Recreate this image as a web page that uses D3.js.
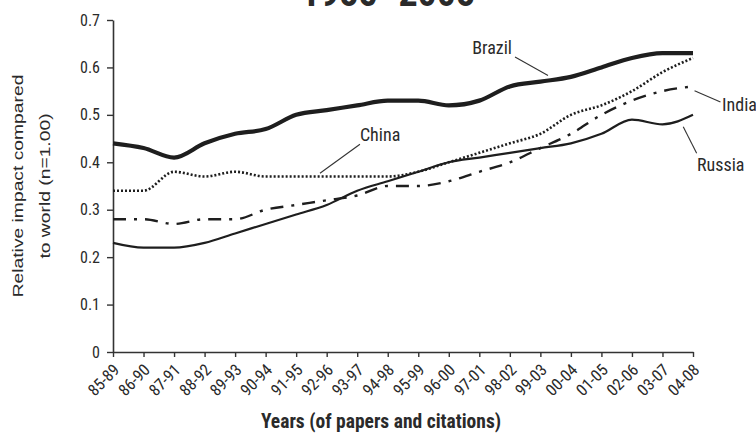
<!DOCTYPE html>
<html>
<head>
<meta charset="utf-8">
<script src="https://cdn.jsdelivr.net/npm/d3@7"></script>
<style>
  html, body { margin: 0; padding: 0; background: #fff; }
  svg { display: block; }
  .narrow { font-family: "Liberation Sans Narrow", "Roboto Condensed", "DejaVu Sans Condensed", "Liberation Sans", sans-serif; }
</style>
</head>
<body>
<svg id="chart" width="756" height="434"></svg>
<script>
// ---- data ----
const titleText = "1985–2008";
const categories = ["85-89","86-90","87-91","88-92","89-93","90-94","91-95","92-96","93-97","94-98",
                    "95-99","96-00","97-01","98-02","99-03","00-04","01-05","02-06","03-07","04-08"];
const brazil = [0.44,0.43,0.41,0.44,0.46,0.47,0.50,0.51,0.52,0.53,0.53,0.52,0.53,0.56,0.57,0.58,0.60,0.62,0.63,0.63];
const china  = [0.34,0.34,0.38,0.37,0.38,0.37,0.37,0.37,0.37,0.37,0.38,0.40,0.42,0.44,0.46,0.50,0.52,0.55,0.59,0.62];
const india  = [0.28,0.28,0.27,0.28,0.28,0.30,0.31,0.32,0.33,0.35,0.35,0.36,0.38,0.40,0.43,0.46,0.50,0.53,0.55,0.56];
const russia = [0.23,0.22,0.22,0.23,0.25,0.27,0.29,0.31,0.34,0.36,0.38,0.40,0.41,0.42,0.43,0.44,0.46,0.49,0.48,0.50];
const yTicks = [0, 0.1, 0.2, 0.3, 0.4, 0.5, 0.6, 0.7];
const yLabelLines = ["Relative impact compared", "to world (n=1.00)"];
const xTitle = "Years (of papers and citations)";

const seriesList = [
  { name: "Russia", values: russia, width: 2.2, dash: null },
  { name: "India",  values: india,  width: 2.4, dash: "13,8,3,8" },
  { name: "China",  values: china,  width: 2.6, dash: "2,2" },
  { name: "Brazil", values: brazil, width: 4.2, dash: null }
];

// annotations in data space (category index, value)
const annotations = [
  { label: "Brazil", tx: 12.42, ty: 0.628, anchor: "middle", x1: 13.17, y1: 0.622, x2: 14.25, y2: 0.583 },
  { label: "China",  tx: 8.75,  ty: 0.445, anchor: "middle", x1: 8.09,  y1: 0.438, x2: 6.78,  y2: 0.377 },
  { label: "India",  tx: 19.95, ty: 0.508, anchor: "start",  x1: 19.05, y1: 0.551, x2: 19.9,  y2: 0.527 },
  { label: "Russia", tx: 19.13, ty: 0.382, anchor: "start",  x1: 18.68, y1: 0.475, x2: 19.12, y2: 0.419 }
];

// ---- layout ----
const svg = d3.select("#chart");
const plotLeft = 113, plotRight = 693, plotTop = 20, plotBottom = 352;
const ink = "#1e1e1e";

const x = d3.scalePoint().domain(categories).range([plotLeft, plotRight]);
const xi = d3.scaleLinear().domain([0, categories.length - 1]).range([plotLeft, plotRight]);
const y = d3.scaleLinear().domain([0, 0.7]).range([plotBottom, plotTop]);

// title (cut off at top in the reference)
svg.append("text")
  .attr("class", "narrow")
  .attr("x", 388).attr("y", 6)
  .attr("text-anchor", "middle")
  .attr("font-size", 38).attr("font-weight", "bold")
  .attr("fill", "#2a2a2a")
  .text(titleText);

// y axis
const yAxis = svg.append("g")
  .attr("transform", `translate(${plotLeft},0)`)
  .call(d3.axisLeft(y).tickValues(yTicks).tickSize(6).tickSizeOuter(0)
    .tickFormat(d => d === 0 ? "0" : d3.format(".1f")(d)));
yAxis.select(".domain").attr("stroke", "#333").attr("stroke-width", 1.6);
yAxis.selectAll(".tick line").attr("stroke", "#333").attr("stroke-width", 1.4);
yAxis.selectAll(".tick text")
  .attr("class", "narrow")
  .attr("font-size", 16).attr("fill", "#2a2a2a")
  .attr("x", -13);

// x axis
const xAxis = svg.append("g")
  .attr("transform", `translate(0,${plotBottom})`)
  .call(d3.axisBottom(x).tickSize(5).tickSizeOuter(0));
xAxis.select(".domain").attr("stroke", "#333").attr("stroke-width", 1.6);
xAxis.selectAll(".tick line").attr("stroke", "#333").attr("stroke-width", 1.4);
xAxis.selectAll(".tick text")
  .attr("class", "narrow")
  .attr("font-size", 16.5).attr("fill", "#2a2a2a")
  .attr("text-anchor", "end")
  .attr("x", 0).attr("y", 0).attr("dy", "0.35em")
  .attr("transform", "translate(3,15) rotate(-45)");

// axis titles
svg.append("text")
  .attr("class", "narrow")
  .attr("x", 381).attr("y", 428)
  .attr("text-anchor", "middle")
  .attr("font-size", 19.5).attr("font-weight", "bold")
  .attr("fill", "#2a2a2a")
  .text(xTitle);

const ylab = svg.append("g");
yLabelLines.forEach((t, i) => {
  ylab.append("text")
    .attr("transform", `translate(${i === 0 ? 23 : 50},186) rotate(-90) scale(1.33,1)`)
    .attr("text-anchor", "middle")
    .attr("font-family", "'Liberation Sans', Arial, sans-serif")
    .attr("font-size", 14.5)
    .attr("fill", "#2a2a2a")
    .text(t);
});

// lines
const line = d3.line()
  .x((d, i) => x(categories[i]))
  .y(d => y(d))
  .curve(d3.curveMonotoneX);

svg.append("g").selectAll("path")
  .data(seriesList)
  .join("path")
  .attr("d", s => line(s.values))
  .attr("fill", "none")
  .attr("stroke", ink)
  .attr("stroke-width", s => s.width)
  .attr("stroke-dasharray", s => s.dash)
  .attr("stroke-linejoin", "round");

// annotations
const ann = svg.append("g");
ann.selectAll("line")
  .data(annotations)
  .join("line")
  .attr("x1", a => xi(a.x1)).attr("y1", a => y(a.y1))
  .attr("x2", a => xi(a.x2)).attr("y2", a => y(a.y2))
  .attr("stroke", "#333").attr("stroke-width", 1.1);
ann.selectAll("text")
  .data(annotations)
  .join("text")
  .attr("class", "narrow")
  .attr("x", a => xi(a.tx)).attr("y", a => y(a.ty))
  .attr("text-anchor", a => a.anchor)
  .attr("font-size", 18)
  .attr("fill", "#2a2a2a")
  .text(a => a.label);
</script>
</body>
</html>
